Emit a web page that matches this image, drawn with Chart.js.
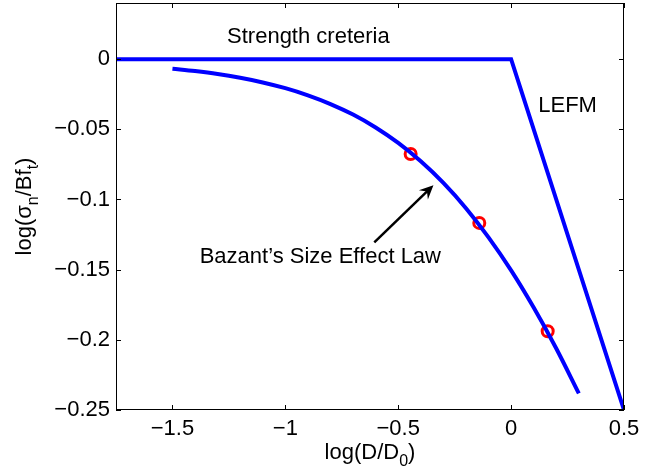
<!DOCTYPE html>
<html>
<head>
<meta charset="utf-8">
<script src="https://cdn.jsdelivr.net/npm/chart.js@4.4.1/dist/chart.umd.min.js"></script>
<style>
  html, body { margin: 0; padding: 0; background: #fff; }
</style>
</head>
<body>
<canvas id="chart" width="661" height="476"></canvas>
<script>
const xTicks = [-1.5, -1, -0.5, 0, 0.5];
const yTicks = [0, -0.05, -0.1, -0.15, -0.2, -0.25];

// strength criterion, then the LEFM asymptote
const limitX = [-1.75, 0, 0.5];
const limitY = [0, 0, -0.25];

// size effect law curve
const lawX = [-1.5, -1.4, -1.3, -1.2, -1.1, -1.0, -0.9, -0.8, -0.7, -0.6,
  -0.5, -0.4, -0.3, -0.2, -0.1, 0.0, 0.1, 0.2, 0.3];
const lawY = [-0.0068, -0.0085, -0.0106, -0.0133, -0.0166, -0.0207, -0.0258, -0.0320, -0.0395, -0.0487,
  -0.0597, -0.0728, -0.0882, -0.1062, -0.1270, -0.1505, -0.1770, -0.2062, -0.2382];

// test results
const testX = [-0.445, -0.141, 0.162];
const testY = [-0.0676, -0.1167, -0.1939];

const notes = [
  { text: 'Strength creteria', x: -0.898, y: 0.0159 },
  { text: 'LEFM', x: 0.25, y: -0.0334 },
  { text: 'Bazant\u2019s Size Effect Law', x: -0.845, y: -0.141 },
];
const arrow = { fromX: -0.606, fromY: -0.1305, toX: -0.344, toY: -0.0898 };

const FONT = '"Liberation Sans", Arial, Helvetica, sans-serif';
const SIZE = 22;

const toPoints = (xs, ys) => xs.map((x, i) => ({ x, y: ys[i] }));
const fmt = (v) => (v < 0 ? '\u2212' + String(Math.abs(v)) : String(v));

/**
 * @description Draws text made of normal and subscript parts, centred on x.
 */
const drawParts = (ctx, parts, x, y, size) => {
  const subSize = Math.round(size * 0.72);
  const widthOf = (p) => {
    ctx.font = `${p.sub ? subSize : size}px ${FONT}`;
    return ctx.measureText(p.t).width;
  };
  const total = parts.reduce((acc, p) => acc + widthOf(p), 0);
  let cx = x - total / 2;
  ctx.textAlign = 'left';
  ctx.textBaseline = 'alphabetic';
  parts.forEach((p) => {
    const w = widthOf(p);
    ctx.fillText(p.t, cx, p.sub ? y + size * 0.33 : y);
    cx += w;
  });
};

const framePlugin = {
  id: 'frame',
  afterDraw(chart) {
    const { ctx, chartArea: a, scales } = chart;
    const sx = scales.x;
    const sy = scales.y;
    ctx.save();

    // box and inward ticks
    ctx.strokeStyle = '#000';
    ctx.lineWidth = 1;
    ctx.strokeRect(a.left + 0.5, a.top + 0.5, a.right - a.left - 1, a.bottom - a.top - 1);
    ctx.beginPath();
    xTicks.forEach((v) => {
      const px = Math.round(sx.getPixelForValue(v)) + 0.5;
      ctx.moveTo(px, a.bottom);
      ctx.lineTo(px, a.bottom - 5);
      ctx.moveTo(px, a.top);
      ctx.lineTo(px, a.top + 5);
    });
    yTicks.forEach((v) => {
      const py = Math.round(sy.getPixelForValue(v)) + 0.5;
      ctx.moveTo(a.left, py);
      ctx.lineTo(a.left + 5, py);
      ctx.moveTo(a.right, py);
      ctx.lineTo(a.right - 5, py);
    });
    ctx.stroke();

    // annotations
    ctx.fillStyle = '#000';
    ctx.font = `${SIZE}px ${FONT}`;
    ctx.textAlign = 'center';
    ctx.textBaseline = 'middle';
    notes.forEach((n) => {
      ctx.fillText(n.text, sx.getPixelForValue(n.x), sy.getPixelForValue(n.y));
    });

    // arrow
    const x1 = sx.getPixelForValue(arrow.fromX);
    const y1 = sy.getPixelForValue(arrow.fromY);
    const x2 = sx.getPixelForValue(arrow.toX);
    const y2 = sy.getPixelForValue(arrow.toY);
    const ang = Math.atan2(y2 - y1, x2 - x1);
    const len = 14;
    const half = 6.5;
    const bx = x2 - len * Math.cos(ang);
    const by = y2 - len * Math.sin(ang);
    ctx.lineWidth = 2.5;
    ctx.beginPath();
    ctx.moveTo(x1, y1);
    ctx.lineTo(x2 - 6 * Math.cos(ang), y2 - 6 * Math.sin(ang));
    ctx.stroke();
    ctx.beginPath();
    ctx.moveTo(x2, y2);
    ctx.lineTo(bx - half * Math.sin(ang), by + half * Math.cos(ang));
    ctx.lineTo(x2 - 9 * Math.cos(ang), y2 - 9 * Math.sin(ang));
    ctx.lineTo(bx + half * Math.sin(ang), by - half * Math.cos(ang));
    ctx.closePath();
    ctx.fill();

    // axis titles with subscripts
    const midX = (a.left + a.right) / 2;
    const midY = (a.top + a.bottom) / 2;
    drawParts(ctx, [{ t: 'log(D/D' }, { t: '0', sub: true }, { t: ')' }], midX, 459, SIZE);
    ctx.translate(31, midY);
    ctx.rotate(-Math.PI / 2);
    drawParts(ctx, [{ t: 'log(\u03c3' }, { t: 'n', sub: true }, { t: '/Bf' }, { t: 't', sub: true }, { t: ')' }], 0, 0, SIZE);
    ctx.restore();
  }
};

const tickFont = { family: FONT, size: SIZE };

new Chart(document.getElementById('chart'), {
  type: 'scatter',
  data: {
    datasets: [
      {
        data: toPoints(lawX, lawY),
        showLine: true,
        borderColor: '#0000ff',
        borderWidth: 4,
        pointRadius: 0,
        cubicInterpolationMode: 'monotone',
        order: 0,
      },
      {
        data: toPoints(limitX, limitY),
        showLine: true,
        borderColor: '#0000ff',
        borderWidth: 4,
        pointRadius: 0,
        order: 0,
      },
      {
        data: toPoints(testX, testY),
        showLine: false,
        pointRadius: 5.5,
        pointBorderWidth: 3,
        pointBorderColor: '#ff0000',
        pointBackgroundColor: 'rgba(0,0,0,0)',
        order: 1,
      },
    ]
  },
  options: {
    responsive: false,
    devicePixelRatio: 1,
    animation: false,
    layout: { autoPadding: false, padding: { left: 0, right: 37, top: 3, bottom: 0 } },
    plugins: {
      legend: { display: false },
      tooltip: { enabled: false },
    },
    scales: {
      x: {
        type: 'linear',
        min: -1.75,
        max: 0.5,
        afterBuildTicks: (s) => { s.ticks = xTicks.map((value) => ({ value })); },
        afterFit: (s) => { s.height = 66; s.paddingLeft = 0; s.paddingRight = 0; },
        grid: { display: false, drawTicks: true, tickLength: 6 },
        border: { display: false },
        ticks: { font: tickFont, color: '#000', padding: 0, maxRotation: 0, autoSkip: false, callback: fmt },
      },
      y: {
        type: 'linear',
        min: -0.25,
        max: 0.04,
        afterBuildTicks: (s) => { s.ticks = yTicks.map((value) => ({ value })); },
        afterFit: (s) => { s.width = 116; s.paddingTop = 0; s.paddingBottom = 0; },
        grid: { display: false, drawTicks: true, tickLength: 6 },
        border: { display: false },
        ticks: { font: tickFont, color: '#000', padding: 0, autoSkip: false, callback: fmt },
      },
    }
  },
  plugins: [framePlugin]
});
</script>
</body>
</html>
